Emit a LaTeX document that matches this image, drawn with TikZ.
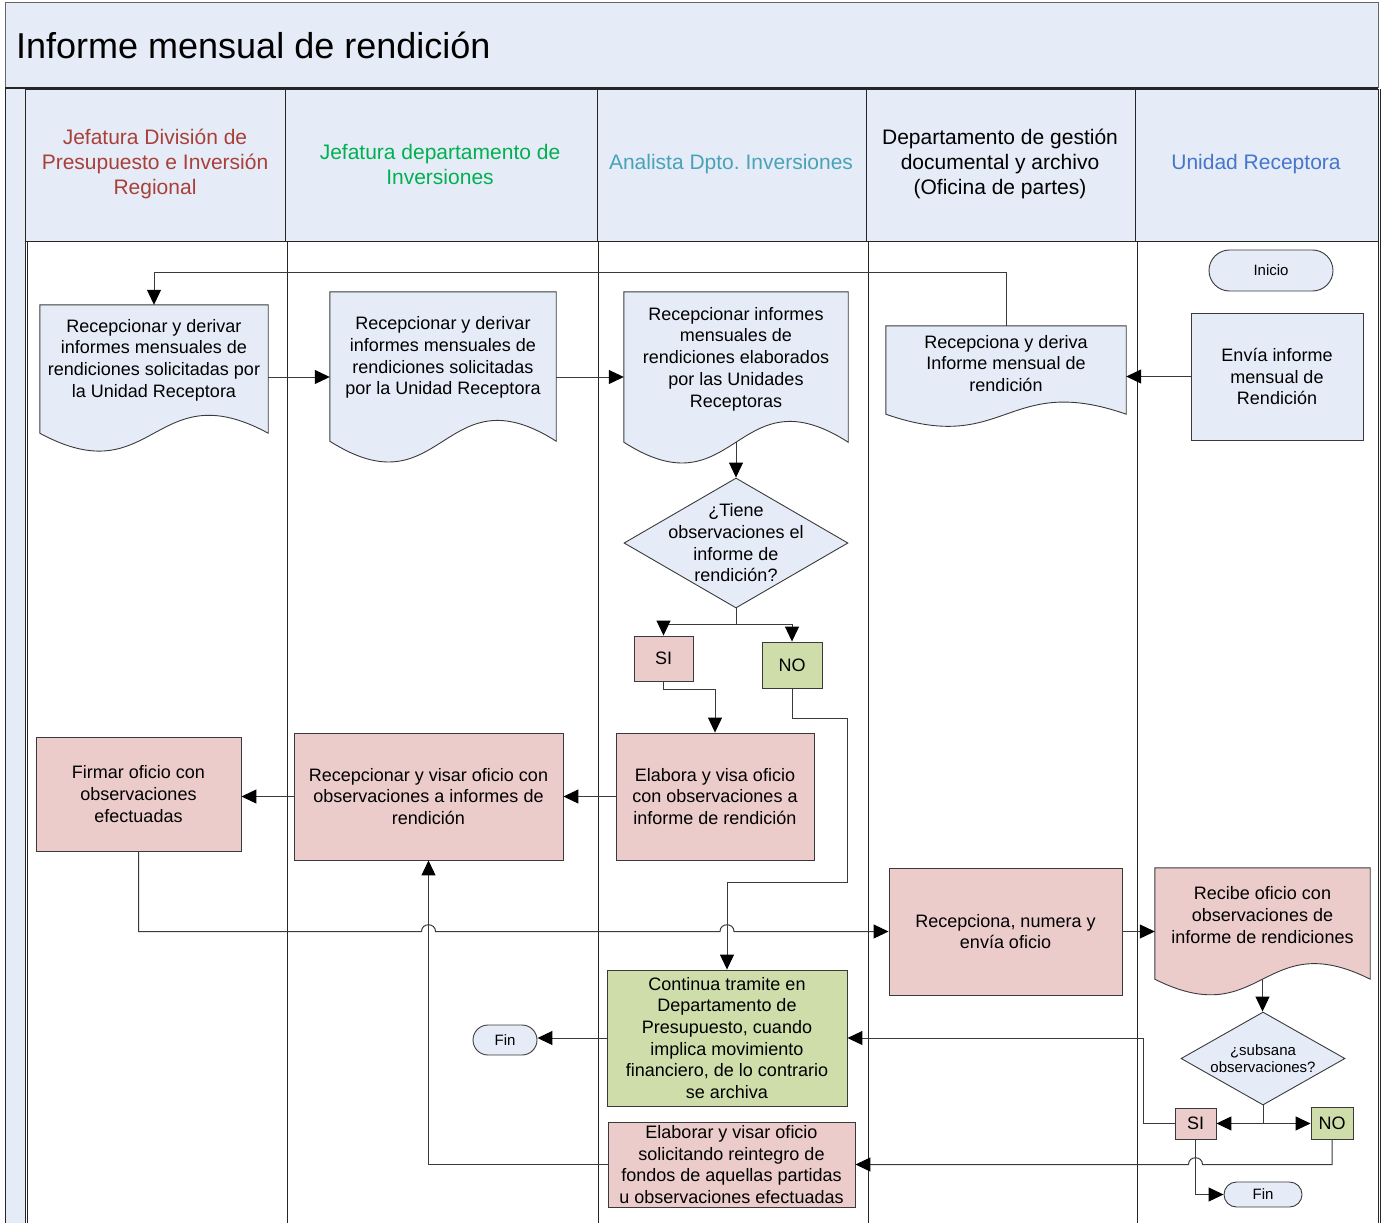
\documentclass[tikz,border=0pt]{standalone}
\usepackage{fontspec}
\setmainfont{Liberation Sans}
\usetikzlibrary{arrows.meta,calc,shapes.geometric,shapes.misc}
\frenchspacing

\definecolor{laneblue}{RGB}{230,236,247}
\definecolor{rosa}{RGB}{235,204,203}
\definecolor{verde}{RGB}{207,221,170}
\definecolor{edge}{RGB}{58,58,58}
\definecolor{hdrred}{RGB}{168,64,58}
\definecolor{hdrgreen}{RGB}{0,176,80}
\definecolor{hdrteal}{RGB}{72,162,184}
\definecolor{hdrblue}{RGB}{68,118,204}

% document symbol: straight top and sides, wavy bottom edge
\newcommand\docoutline[3]{%
  \draw[shapeline, fill=#2] (#1.south west) -- (#1.north west) -- (#1.north east) -- (#1.south east)
    .. controls ($(#1.south)+(0,-#3)$) and ($(#1.south)+(0,#3)$) .. (#1.south west) -- cycle;}

\begin{document}
\begin{tikzpicture}[x=1pt, y=-1pt,
  every node/.style={font=\fontsize{18}{21.7}\selectfont, text=black},
  txt/.style={align=center, inner sep=0pt},
  shapeline/.style={draw=edge, line width=0.9pt},
  proc/.style={shapeline, rectangle, inner sep=2pt, align=center},
  docarea/.style={rectangle, inner sep=0pt},
  arr/.style={draw=edge, line width=1pt, -{Triangle[length=15pt,width=14pt,color=black]}},
  conn/.style={draw=edge, line width=1pt},
  lane/.style={draw=black!85, line width=1pt},
  hdr/.style={align=center, inner sep=0pt, font=\fontsize{21}{25}\selectfont},
  term/.style={shapeline, rounded rectangle, fill=laneblue, inner sep=0pt, font=\fontsize{15}{18}\selectfont},
]
\useasboundingbox (0,0) rectangle (1384,1223);

% ---------- pool, title and swimlanes ----------
\fill[laneblue] (5,3) rectangle (1378,87);
\draw[draw=black!60, line width=1pt] (5,3) rectangle (1378,87);
\fill[laneblue] (5,87) rectangle (25,1223);
\draw[line width=1.2pt, black!85] (5,88) -- (1378,88);
\draw[lane] (5,87) -- (5,1223);
\foreach \a/\b in {25/285, 285/597, 597/866, 866/1135, 1135/1378}
  \draw[lane, fill=laneblue] (\a,89) rectangle (\b,241);
\foreach \x in {25,27,287,598,868,1137,1378}
  \draw[lane] (\x,241) -- (\x,1223);
\draw[lane] (1380,89) -- (1380,1223);

\node[anchor=west, inner sep=0pt, font=\fontsize{36}{40}\selectfont] (title) at (16,45) {Informe mensual de rendición};

\node[hdr, text=hdrred] (h1) at (155,164) {Jefatura División de\\Presupuesto e Inversión\\Regional};
\node[hdr, text=hdrgreen] (h2) at (440,164) {Jefatura departamento de\\Inversiones};
\node[hdr, text=hdrteal] (h3) at (731,164) {Analista Dpto. Inversiones};
\node[hdr] (h4) at (1000,164) {Departamento de gestión\\documental y archivo\\(Oficina de partes)};
\node[hdr, text=hdrblue] (h5) at (1256,164) {Unidad Receptora};

% ---------- document symbols ----------
\node[docarea, minimum width=228pt, minimum height=128pt] (d6) at (154,369) {};
\docoutline{d6}{laneblue}{62}
\node[txt] (d6t) at ([yshift=9pt]d6.center) {Recepcionar y derivar\\informes mensuales de\\rendiciones solicitadas por\\la Unidad Receptora};

\node[docarea, minimum width=226pt, minimum height=149pt] (d5) at (443,366.5) {};
\docoutline{d5}{laneblue}{72}
\node[txt] (d5t) at ([yshift=9pt]d5.center) {Recepcionar y derivar\\informes mensuales de\\rendiciones solicitadas\\por la Unidad Receptora};

\node[docarea, minimum width=224pt, minimum height=150pt] (d4) at (736,367) {};
\docoutline{d4}{laneblue}{72}
\node[txt] (d4t) at ([yshift=8pt]d4.center) {Recepcionar informes\\mensuales de\\rendiciones elaborados\\por las Unidades\\Receptoras};

\node[docarea, minimum width=240pt, minimum height=88pt] (d3) at (1006,370) {};
\docoutline{d3}{laneblue}{42}
\node[txt] (d3t) at ([yshift=6.5pt]d3.center) {Recepciona y deriva\\Informe mensual de\\rendición};

\node[docarea, minimum width=215pt, minimum height=111pt] (d7) at (1262.5,923.5) {};
\docoutline{d7}{rosa}{54}
\node[txt] (d7t) at ([yshift=8.5pt]d7.center) {Recibe oficio con\\observaciones de\\informe de rendiciones};

% ---------- terminals ----------
\node[term, minimum width=124pt, minimum height=41pt] (inicio) at (1271,270.5) {Inicio};
\node[term, minimum width=64pt, minimum height=30pt] (fin1) at (505,1040) {Fin};
\node[term, minimum width=78pt, minimum height=25pt] (fin2) at (1263,1194.5) {Fin};

% ---------- process boxes ----------
\node[proc, fill=laneblue, minimum width=172pt, minimum height=127pt] (envia) at (1277,376.5) {Envía informe\\mensual de\\Rendición};
\node[proc, fill=rosa, minimum width=198pt, minimum height=127pt] (elabora) at (715,796.5) {Elabora y visa oficio\\con observaciones a\\informe de rendición};
\node[proc, fill=rosa, minimum width=269pt, minimum height=127pt] (recvisar) at (428.5,796.5) {Recepcionar y visar oficio con\\observaciones a informes de\\rendición};
\node[proc, fill=rosa, minimum width=205pt, minimum height=114pt] (firmar) at (138.5,794) {Firmar oficio con\\observaciones\\efectuadas};
\node[proc, fill=rosa, minimum width=233pt, minimum height=127pt] (recnum) at (1005.5,931.5) {Recepciona, numera y\\envía oficio};
\node[proc, fill=verde, minimum width=240pt, minimum height=136pt] (continua) at (727,1038) {Continua tramite en\\Departamento de\\Presupuesto, cuando\\implica movimiento\\financiero, de lo contrario\\se archiva};
\node[proc, fill=rosa, minimum width=247pt, minimum height=85pt] (reint) at (731.5,1164.5) {Elaborar y visar oficio\\solicitando reintegro de\\fondos de aquellas partidas\\u observaciones efectuadas};

\node[proc, fill=rosa, minimum width=59pt, minimum height=45pt] (si1) at (663.5,658.5) {SI};
\node[proc, fill=verde, minimum width=60pt, minimum height=46pt] (no1) at (792,665) {NO};
\node[proc, fill=rosa, minimum width=41pt, minimum height=31pt, inner sep=0pt] (si2) at (1195.5,1123.5) {SI};
\node[proc, fill=verde, minimum width=42pt, minimum height=32pt, inner sep=0pt] (no2) at (1332,1123) {NO};

% ---------- decisions ----------
\node[shapeline, diamond, fill=laneblue, minimum width=224pt, minimum height=130pt, inner sep=0pt] (q1) at (736,543) {};
\node[txt] (q1t) at (q1.center) {¿Tiene\\observaciones el\\informe de\\rendición?};
\node[shapeline, diamond, fill=laneblue, minimum width=164pt, minimum height=93pt, inner sep=0pt] (q2) at (1263,1058.5) {};
\node[txt, font=\fontsize{15}{17}\selectfont] (q2t) at (q2.center) {¿subsana\\observaciones?};

% ---------- connectors ----------
\coordinate (topline) at (0,272);
\draw[arr] (d3.north) |- (d6.north |- topline) -- (d6.north);
\draw[arr] (envia.west) -- (envia.west -| d3.east);
\draw[arr] ([yshift=-8pt]d6.east) -- ([yshift=-8pt]d6.east -| d5.west);
\draw[arr] ([yshift=-10.5pt]d5.east) -- ([yshift=-10.5pt]d5.east -| d4.west);
\draw[arr] (d4.south) -- (q1.north);

\draw[conn] (q1.south) -- ++(0,16) coordinate (q1j);
\draw[arr] (q1j) -| (si1.north);
\draw[arr] (q1j) -| (no1.north);

\draw[arr] (si1.south) -- ++(0,8) -| (elabora.north);
\draw[arr] (no1.south) -- ++(0,30) -- ++(55,0) -- ++(0,164) -| (continua.north);

\draw[arr] (elabora.west) -- (recvisar.east);
\draw[arr] (recvisar.west) -- (recvisar.west -| firmar.east);

\draw[arr] (firmar.south) |- ($(recvisar.south |- recnum.west)+(-7,0)$)
  .. controls +(0,-9) and +(0,-9) .. ++(14,0)
  -- ($(continua.north |- recnum.west)+(-7,0)$)
  .. controls +(0,-9) and +(0,-9) .. ++(14,0)
  -- (recnum.west);

\draw[arr] (recnum.east) -- (recnum.east -| d7.west);
\draw[arr] (d7.south) -- (d7.south |- q2.north);

\draw[conn] (q2.south) -- ++(0,18) coordinate (q2j);
\draw[arr] (q2j) -- (q2j -| si2.east);
\draw[arr] (q2j) -- (q2j -| no2.west);

\draw[arr] (si2.west) -- ++(-31,0) |- (continua.east);
\draw[arr] (si2.south) |- (fin2.west);
\draw[arr] (no2.south) |- ($(si2.south |- reint.east)+(7,0)$)
  .. controls +(0,-9) and +(0,-9) .. ++(-14,0) -- (reint.east);

\draw[arr] (reint.west) -| (recvisar.south);
\draw[arr] (continua.west) -- (continua.west -| fin1.east);
\end{tikzpicture}
\end{document}
